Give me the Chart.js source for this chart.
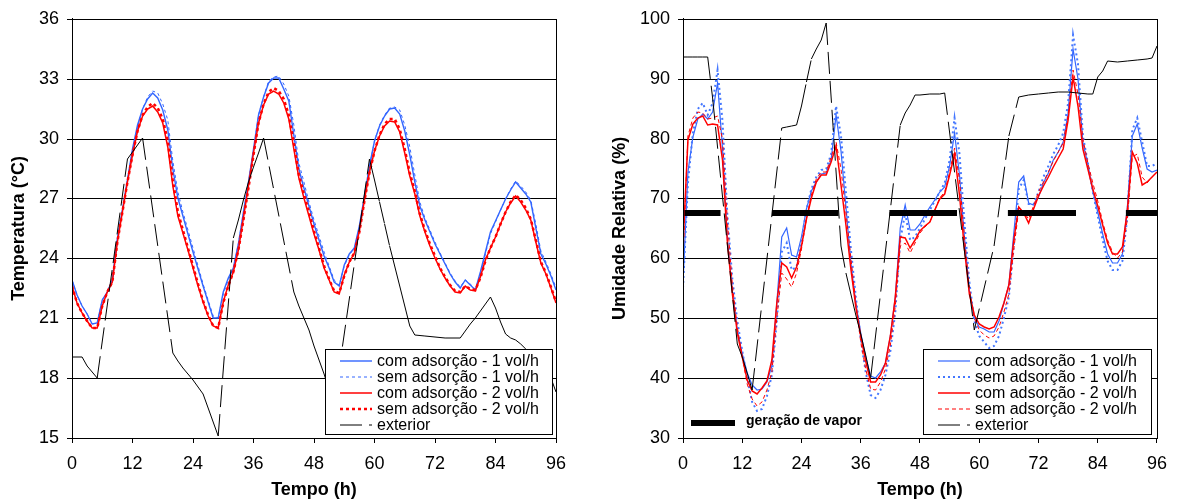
<!DOCTYPE html>
<html>
<head>
<meta charset="utf-8">
<script src="https://cdn.jsdelivr.net/npm/chart.js@4.4.0/dist/chart.umd.min.js"></script>
<style>
body { margin: 0; background: #fff; }
canvas { position: absolute; top: 0; }
#tempChart { left: 0; }
#umidChart { left: 590px; }
</style>
</head>
<body>
<canvas id="tempChart" width="590" height="501"></canvas>
<canvas id="umidChart" width="587" height="501"></canvas>
<script>
// horas da simulacao (eixo x dos dois graficos)
const horas = [0,1,2,3,4,5,6,7,8,9,10,11,12,13,14,15,16,17,18,19,20,21,22,23,24,25,26,27,28,29,30,31,32,33,34,35,36,37,38,39,40,41,42,43,44,45,46,47,48,49,50,51,52,53,54,55,56,57,58,59,60,61,62,63,64,65,66,67,68,69,70,71,72,73,74,75,76,77,78,79,80,81,82,83,84,85,86,87,88,89,90,91,92,93,94,95,96];

// ---- Temperatura (C)
const tempCom1 = [22.9, 22.15, 21.6, 21.2, 20.72, 20.75, 21.9, 22.3, 22.9, 25.0,
    26.4, 27.9, 29.5, 30.7, 31.5, 32.0, 32.3, 32.05, 31.45, 30.45,
    28.5, 27.0, 26.1, 25.2, 24.3, 23.45, 22.6, 21.8, 21.0, 21.0,
    22.3, 23.0, 23.5, 24.7, 26.3, 27.8, 29.5, 31.2, 32.1, 32.8,
    33.05, 33.05, 32.5, 31.9, 30.2, 28.5, 27.5, 26.6, 25.7, 24.9,
    24.1, 23.5, 22.8, 22.6, 23.65, 24.2, 24.5, 25.6, 27.1, 28.65,
    29.9, 30.65, 31.15, 31.5, 31.55, 31.25, 30.4, 29.2, 27.8, 26.6,
    25.9, 25.3, 24.7, 24.2, 23.7, 23.2, 22.8, 22.5, 22.9, 22.65,
    22.4, 23.3, 24.3, 25.3, 25.85, 26.4, 26.95, 27.4, 27.8, 27.5,
    27.2, 26.8, 25.5, 24.2, 23.7, 23.1, 22.4];
const tempSem1 = [22.9, 22.15, 21.6, 21.2, 20.72, 20.75, 21.9, 22.3, 22.9, 24.9,
    26.4, 27.9, 29.4, 30.6, 31.5, 32.1, 32.4, 32.3, 31.75, 30.95,
    28.9, 27.3, 26.3, 25.4, 24.5, 23.6, 22.7, 21.9, 21.1, 21.0,
    22.2, 22.9, 23.5, 24.7, 26.2, 27.7, 29.4, 31.2, 32.1, 32.9,
    33.1, 33.15, 32.75, 32.15, 30.7, 28.8, 27.8, 26.8, 25.9, 25.1,
    24.3, 23.6, 22.9, 22.65, 23.6, 24.15, 24.5, 25.5, 27.0, 28.6,
    29.9, 30.7, 31.2, 31.55, 31.6, 31.45, 30.7, 29.6, 28.2, 26.8,
    26.0, 25.4, 24.8, 24.25, 23.75, 23.25, 22.85, 22.55, 22.9, 22.7,
    22.45, 23.2, 24.2, 25.2, 25.8, 26.4, 26.95, 27.45, 27.85, 27.6,
    27.3, 26.9, 25.7, 24.35, 23.8, 23.2, 22.5];
const tempCom2 = [22.6, 21.75, 21.25, 20.85, 20.5, 20.5, 21.6, 22.3, 22.8, 24.8,
    26.3, 27.8, 29.2, 30.4, 31.15, 31.5, 31.65, 31.35, 30.8, 29.6,
    27.6, 26.1, 25.25, 24.4, 23.5, 22.6, 21.8, 21.1, 20.6, 20.5,
    21.8, 22.65, 23.3, 24.4, 26.0, 27.6, 29.3, 30.8, 31.7, 32.25,
    32.4, 32.25, 31.8, 31.0, 29.5, 28.0, 27.0, 26.1, 25.2, 24.4,
    23.5, 22.9, 22.3, 22.2, 23.15, 23.8, 24.25, 25.35, 26.9, 28.35,
    29.4, 30.15, 30.65, 30.9, 30.85, 30.35, 29.3, 28.1, 27.2, 26.1,
    25.3, 24.6, 24.0, 23.45, 23.0, 22.6, 22.3, 22.25, 22.6, 22.4,
    22.35, 23.05, 23.9, 24.5, 25.05, 25.7, 26.3, 26.75, 27.1, 26.8,
    26.4, 25.9, 24.8, 23.75, 23.2, 22.5, 21.75];
const tempSem2 = [22.6, 21.75, 21.25, 20.85, 20.5, 20.5, 21.6, 22.3, 22.8, 24.8,
    26.3, 27.8, 29.2, 30.4, 31.2, 31.6, 31.8, 31.55, 31.0, 29.9,
    27.9, 26.3, 25.4, 24.5, 23.6, 22.7, 21.85, 21.15, 20.6, 20.5,
    21.75, 22.6, 23.3, 24.4, 25.9, 27.5, 29.2, 30.8, 31.75, 32.35,
    32.55, 32.4, 32.0, 31.2, 29.8, 28.2, 27.2, 26.3, 25.35, 24.5,
    23.6, 22.95, 22.35, 22.25, 23.1, 23.8, 24.25, 25.3, 26.85, 28.3,
    29.4, 30.2, 30.75, 31.0, 31.0, 30.5, 29.5, 28.3, 27.35, 26.2,
    25.4, 24.7, 24.1, 23.5, 23.05, 22.65, 22.35, 22.3, 22.6, 22.45,
    22.4, 23.0, 23.85, 24.5, 25.05, 25.7, 26.3, 26.8, 27.15, 26.9,
    26.5, 25.95, 24.9, 23.8, 23.25, 22.55, 21.8];
const tempExtHoras = [0, 2, 3, 4, 5, 11, 12, 13, 14, 20, 21, 22, 23, 24, 25, 26, 27, 28, 29,
    32, 33, 34, 35, 36, 37, 38, 44, 45, 46, 47, 48, 49, 50, 51, 52,
    59, 60, 61, 62, 63, 64, 65, 66, 67, 68, 70, 72, 74, 77, 78, 79, 80, 81, 82, 83,
    84, 85, 86, 87, 88, 89, 90, 91, 92, 93, 94, 95, 96];
const tempExt = [19.05, 19.05, 18.6, 18.3, 18.0, 29.0, 29.35, 29.7, 30.05, 19.25, 18.85, 18.5, 18.2, 17.9, 17.55, 17.2, 16.5, 15.8, 15.1,
    25.0, 25.9, 26.9, 27.8, 28.6, 29.3, 30.05, 22.3, 21.6, 21.0, 20.4, 19.6, 18.9, 18.2, 17.4, 16.7,
    29.0, 27.9, 26.8, 25.7, 24.6, 23.6, 22.6, 21.6, 20.6, 20.15, 20.1, 20.07, 20.03, 20.0, 20.35, 20.7, 21.0, 21.35, 21.7, 22.05,
    21.5, 20.8, 20.2, 20.0, 19.9, 19.7, 19.45, 19.2, 18.95, 18.7, 18.4, 18.0, 17.3];

// ---- Umidade relativa (%)
const umidCom1 = [55.8, 74.5, 80.3, 83.2, 84.1, 83.3, 84.5, 89.2, 78.5, 63.0,
    54.5, 48.1, 44.0, 40.8, 38.8, 38.0, 38.2, 39.4, 42.0, 52.5,
    63.6, 65.0, 60.5, 60.3, 63.5, 68.2, 71.3, 72.8, 74.1, 74.2,
    76.4, 84.0, 78.0, 68.5, 59.3, 52.6, 47.5, 43.5, 40.3, 40.0,
    41.0, 42.5, 47.0, 53.5, 65.0, 68.9, 64.7, 64.7, 65.7, 67.2,
    68.6, 69.8, 71.0, 71.9, 75.5, 81.0, 74.0, 63.5, 54.5, 50.0,
    48.5, 48.2, 47.7, 47.7, 49.5, 52.5, 55.5, 64.2, 72.8, 73.8,
    69.2, 68.9, 70.3, 72.5, 74.2, 76.4, 77.8, 79.4, 84.2, 95.0,
    90.0, 79.2, 75.8, 71.3, 67.8, 64.0, 60.8, 59.2, 59.3, 60.8,
    68.5, 80.5, 82.5, 78.5, 75.0, 74.4, 74.7];
const umidSem1 = [55.0, 72.5, 81.0, 85.0, 86.0, 84.0, 86.0, 91.5, 83.0, 67.0,
    56.5, 49.5, 44.5, 40.0, 36.0, 34.5, 34.8, 37.0, 40.5, 49.5,
    61.0, 62.5, 58.0, 58.5, 63.0, 68.0, 71.5, 73.5, 74.8, 75.0,
    77.5, 85.5, 80.5, 71.0, 61.5, 53.5, 46.5, 41.0, 37.2, 36.7,
    38.0, 40.5, 44.5, 51.0, 63.0, 67.5, 63.0, 63.5, 65.0, 66.5,
    68.0, 69.5, 71.0, 72.5, 76.5, 83.5, 77.5, 66.0, 56.0, 49.5,
    47.0, 46.0, 45.0, 45.3, 47.0, 50.0, 53.5, 62.0, 71.5, 73.0,
    69.0, 69.0, 71.0, 73.5, 75.5, 77.5, 79.0, 81.0, 86.0, 97.3,
    92.5, 80.5, 76.0, 71.0, 67.0, 63.0, 59.5, 58.0, 58.0, 59.5,
    67.0, 81.5, 83.5, 79.5, 75.5, 75.5, 76.0];
const umidCom2 = [62.0, 79.8, 82.5, 83.5, 83.7, 82.3, 82.5, 82.3, 76.5, 62.5,
    54.0, 47.5, 43.5, 39.7, 37.8, 37.3, 38.3, 39.6, 43.0, 52.5,
    59.2, 58.5, 56.8, 58.6, 62.0, 66.5, 70.0, 72.8, 73.9, 73.9,
    76.1, 78.7, 72.2, 65.5, 58.3, 51.8, 47.0, 42.8, 39.4, 39.4,
    40.5, 42.5, 47.0, 53.5, 63.6, 63.4, 61.7, 63.1, 64.6, 65.4,
    66.1, 68.0, 69.9, 70.7, 74.0, 77.5, 70.5, 61.5, 54.0, 50.5,
    49.0, 48.5, 48.2, 48.5, 50.2, 52.5, 55.5, 63.1, 68.6, 67.6,
    65.9, 68.2, 70.4, 72.0, 73.6, 75.2, 76.8, 78.2, 83.1, 90.3,
    85.5, 78.3, 75.0, 71.5, 68.8, 65.5, 62.5, 60.8, 60.7, 61.9,
    68.0, 77.8, 76.0, 72.3, 72.8, 73.6, 74.4];
const umidSem2 = [60.0, 80.5, 83.5, 84.5, 84.3, 83.2, 83.5, 83.8, 80.0, 66.0,
    55.5, 48.5, 43.5, 39.0, 36.5, 35.3, 36.0, 38.0, 41.0, 50.0,
    57.5, 56.5, 55.2, 57.5, 61.5, 66.5, 70.5, 73.2, 74.5, 74.5,
    77.0, 79.5, 75.0, 67.5, 60.0, 52.5, 46.0, 41.5, 38.2, 38.0,
    39.3, 41.5, 45.5, 52.0, 62.0, 62.5, 60.9, 62.5, 64.2, 65.2,
    66.0, 68.0, 70.0, 71.0, 74.5, 78.5, 73.0, 63.5, 55.0, 50.0,
    48.0, 47.2, 46.7, 47.0, 48.5, 51.0, 54.0, 61.5, 68.0, 67.8,
    66.5, 68.8, 71.0, 72.8, 74.5, 76.2, 77.8, 79.3, 84.0, 91.5,
    87.5, 80.0, 76.0, 72.5, 69.5, 66.0, 63.0, 61.0, 60.0, 61.0,
    66.5, 77.0, 77.5, 73.5, 72.5, 73.5, 74.5];
const umidExtHoras = [0, 1, 2, 3, 4, 5, 6, 11, 12, 13, 14, 20, 21, 22, 23, 24, 25, 26, 27, 28, 29,
    32, 33, 34, 35, 36, 37, 38, 44, 45, 46, 47, 48, 50, 52, 53, 59, 63, 66, 68,
    70, 72, 74, 76, 78, 80, 82, 83, 84, 85, 86, 88, 90, 92, 94, 95, 96];
const umidExt = [93.6, 93.65, 93.7, 93.7, 93.7, 93.7, 86.7, 45.7, 43.6, 40.8, 38.0, 81.8, 82.0, 82.1, 82.2, 85.5, 89.5, 93.3, 95.0, 96.4, 99.3,
    62.0, 57.5, 54.0, 50.5, 47.3, 43.8, 40.0, 82.2, 84.3, 85.6, 87.2, 87.3, 87.4, 87.5, 87.6, 48.0, 62.0, 80.5, 87.0,
    87.3, 87.5, 87.6, 87.7, 87.8, 87.6, 87.4, 87.5, 90.3, 91.3, 93.0, 92.8, 93.0, 93.2, 93.3, 93.4, 95.5];

// periodos de geracao de vapor
const vaporInicio = [0.3, 18, 41.8, 65.8, 89.7];
const vaporFim = [7.6, 31.5, 55.5, 79.6, 96];
const vaporNivel = 67.5;

const rotulos = ["com adsorção - 1 vol/h", "sem adsorção - 1 vol/h", "com adsorção - 2 vol/h", "sem adsorção - 2 vol/h", "exterior"];
const AZUL = '#3366FF';
const VERMELHO = '#FF0000';

Chart.defaults.font.family = '"Liberation Sans", Arial, sans-serif';
Chart.defaults.color = '#000';

function pontos(xs, ys) {
    return xs.map((x, i) => ({x: x, y: ys[i]}));
}

function serie(label, cor, largura, traco, xs, ys, ordem) {
    return {
        label: label,
        data: pontos(xs, ys),
        borderColor: cor,
        borderWidth: largura,
        borderDash: traco,
        pointRadius: 0,
        tension: 0,
        fill: false,
        order: ordem
    };
}

// linha do exterior: o tracejado recomeca em cada segmento (como no Excel)
function serieExterior(xs, ys) {
    const s = serie(rotulos[4], '#000', 1, [22, 7], xs, ys, 1);
    s.segment = {borderDashOffset: c => (c.p0DataIndex % 2) * 0.01};
    return s;
}

// moldura do grafico + legenda em caixa no canto inferior direito
const moldura = {
    id: 'moldura',
    afterDatasetsDraw(chart, args, opts) {
        const {ctx, chartArea: a} = chart;
        ctx.save();
        ctx.strokeStyle = '#000';
        ctx.lineWidth = 1;
        ctx.strokeRect(Math.round(a.left) + 0.5, Math.round(a.top) + 0.5, Math.round(a.right - a.left), Math.round(a.bottom - a.top));

        if (opts.chave) {
            const yk = Math.round(a.bottom - 15);
            ctx.lineWidth = 6;
            ctx.beginPath();
            ctx.moveTo(a.left + 8, yk);
            ctx.lineTo(a.left + 52, yk);
            ctx.stroke();
            ctx.fillStyle = '#000';
            ctx.font = 'bold 14px "Liberation Sans", Arial, sans-serif';
            ctx.textBaseline = 'middle';
            ctx.fillText(opts.chave, a.left + 63, yk - 2);
        }

        const bx = Math.round(a.right - opts.direita - opts.largura);
        const by = Math.round(a.bottom - opts.baixo - opts.altura);
        ctx.fillStyle = '#fff';
        ctx.fillRect(bx, by, opts.largura, opts.altura);
        ctx.lineWidth = 1;
        ctx.strokeStyle = '#000';
        ctx.strokeRect(bx + 0.5, by + 0.5, opts.largura, opts.altura);
        let yy = by + 12;
        chart.data.datasets.forEach(ds => {
            if (!ds.label) return;
            ctx.save();
            ctx.strokeStyle = ds.borderColor;
            ctx.lineWidth = ds.borderWidth;
            ctx.setLineDash(ds.borderDash || []);
            ctx.beginPath();
            ctx.moveTo(bx + 15, yy);
            ctx.lineTo(bx + 47, yy);
            ctx.stroke();
            ctx.restore();
            ctx.fillStyle = '#000';
            ctx.font = '16px "Liberation Sans", Arial, sans-serif';
            ctx.textBaseline = 'middle';
            ctx.fillText(ds.label, bx + 52, yy + 1);
            yy += 16;
        });
        ctx.restore();
    }
};

function eixos(yMin, yMax, passo, tituloY, larguraY, padTitulo) {
    return {
        x: {
            type: 'linear',
            min: 0,
            max: 96,
            afterFit: s => { s.height = 63; },
            ticks: {stepSize: 12, font: {size: 18}, color: '#000', padding: 10, maxRotation: 0, autoSkip: false},
            grid: {drawOnChartArea: false, drawTicks: true, tickLength: 5, color: '#000'},
            border: {display: true, color: '#000', width: 1},
            title: {display: true, text: 'Tempo (h)', font: {size: 18, weight: 'bold'}, color: '#000', padding: {top: 0, bottom: 0}}
        },
        y: {
            min: yMin,
            max: yMax,
            alignToPixels: true,
            afterFit: s => { s.width = larguraY; },
            ticks: {stepSize: passo, font: {size: 18}, color: '#000', padding: 8},
            grid: {color: '#000', lineWidth: 1, tickLength: 5},
            border: {display: true, color: '#000', width: 1},
            title: {display: true, text: tituloY, font: {size: 18, weight: 'bold'}, color: '#000', padding: {top: padTitulo, bottom: 0}}
        }
    };
}

const vaporX = [];
const vaporY = [];
vaporInicio.forEach((ini, i) => {
    vaporX.push(ini, vaporFim[i], vaporFim[i]);
    vaporY.push(vaporNivel, vaporNivel, null);
});

const chartTemp = new Chart(document.getElementById('tempChart').getContext('2d'), {
    type: 'line',
    data: {
        datasets: [
            serie(rotulos[0], AZUL, 1.4, [], horas, tempCom1, 5),
            serie(rotulos[1], AZUL, 1, [3, 3], horas, tempSem1, 4),
            serie(rotulos[2], VERMELHO, 1.5, [], horas, tempCom2, 3),
            serie(rotulos[3], VERMELHO, 2.5, [3, 3], horas, tempSem2, 2),
            serieExterior(tempExtHoras, tempExt)
        ]
    },
    options: {
        responsive: false,
        animation: false,
        devicePixelRatio: 1,
        layout: {padding: {left: 0, right: 34, top: 18, bottom: 0}},
        scales: eixos(15, 36, 3, 'Temperatura (°C)', 72, 8),
        plugins: {
            legend: {display: false},
            tooltip: {enabled: false},
            moldura: {direita: 4, baixo: 4, largura: 227, altura: 85}
        }
    },
    plugins: [moldura]
});

const vapor = {
    data: pontos(vaporX, vaporY),
    borderColor: '#000',
    borderWidth: 6,
    borderCapStyle: 'butt',
    pointRadius: 0,
    spanGaps: false,
    order: 0
};

const chartUmid = new Chart(document.getElementById('umidChart').getContext('2d'), {
    type: 'line',
    data: {
        datasets: [
            serie(rotulos[0], AZUL, 1.2, [], horas, umidCom1, 5),
            serie(rotulos[1], '#4477FF', 2, [2, 3], horas, umidSem1, 4),
            serie(rotulos[2], VERMELHO, 1.5, [], horas, umidCom2, 3),
            serie(rotulos[3], VERMELHO, 1, [4, 3], horas, umidSem2, 2),
            serieExterior(umidExtHoras, umidExt),
            vapor
        ]
    },
    options: {
        responsive: false,
        animation: false,
        devicePixelRatio: 1,
        layout: {padding: {left: 0, right: 19, top: 18, bottom: 0}},
        scales: eixos(30, 100, 10, 'Umidade Relativa (%)', 93, 19),
        plugins: {
            legend: {display: false},
            tooltip: {enabled: false},
            moldura: {direita: 6, baixo: 4, largura: 228, altura: 85, chave: 'geração de vapor'}
        }
    },
    plugins: [moldura]
});
</script>
</body>
</html>
